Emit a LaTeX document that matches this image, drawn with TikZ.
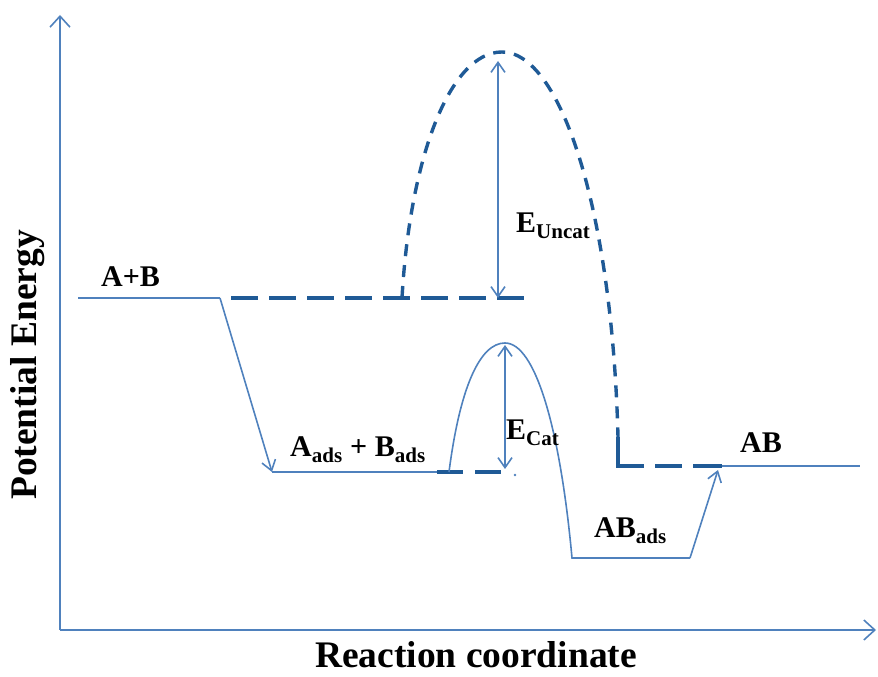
\documentclass[tikz,border=0pt]{standalone}
\usepackage{fontspec}
\setmainfont{Liberation Serif}
\usepackage{xcolor}
\definecolor{lineBlue}{HTML}{4F81BD}
\definecolor{dashBlue}{HTML}{1F5A96}
\usepackage{tikz}
\usetikzlibrary{arrows.meta}

\begin{document}
\begin{tikzpicture}[
    x=1pt, y=1pt,
    axisLine/.style={lineBlue, line width=1.6pt, -{Straight Barb[length=11pt, width=20pt, line width=1.6pt]}},
    levelLine/.style={lineBlue, line width=1.6pt},
    dashLevel/.style={dashBlue, line width=3.4pt, dash pattern=on 27pt off 11pt},
    dashHump/.style={dashBlue, line width=3.4pt, dash pattern=on 12pt off 9pt},
    stepArrow/.style={levelLine, -{Straight Barb[length=10pt, width=14pt, line width=1.6pt]}},
    gapArrow/.style={levelLine, {Straight Barb[length=10pt, width=14pt, line width=1.6pt]}-{Straight Barb[length=10pt, width=14pt, line width=1.6pt]}},
    lblNode/.style={anchor=base west, inner sep=0pt, font=\fontsize{30}{36}\selectfont\bfseries},
    axisLbl/.style={inner sep=0pt, font=\fontsize{37.5}{45}\selectfont\bfseries}
]
\useasboundingbox (0,0) rectangle (878,677);

% axes
\coordinate (origin) at (60,47);
\coordinate (yTop) at (60,662);
\coordinate (xEnd) at (876,47);
\draw[axisLine] (origin) -- (yTop);
\draw[axisLine] (origin) -- (xEnd);

% energy levels
\coordinate (reactL) at (78,379);
\coordinate (reactR) at (220,379);
\coordinate (uncatL) at (402,379);
\coordinate (uncatTip) at (527,379);
\coordinate (uncatPeak) at (502,625);
\coordinate (uncatR) at (618,240);
\coordinate (prodL) at (618,211);
\coordinate (prodM) at (722,211);
\coordinate (prodR) at (860,211);
\coordinate (adsL) at (272,205);
\coordinate (adsR) at (449,205);
\coordinate (adsDash) at (437,205);
\coordinate (adsTip) at (504,205);
\coordinate (catPeak) at (505,334);
\coordinate (abadsL) at (572,119);
\coordinate (abadsR) at (690,119);
\coordinate (abadsTip) at (718,207);

\draw[levelLine] (reactL) -- (reactR);
\draw[dashLevel, dash phase=27pt] (reactR) -- (uncatTip);
\draw[stepArrow] (reactR) -- (adsL);
\draw[levelLine] (adsL) -- (adsR);
\draw[dashLevel, dash pattern=on 26pt off 12pt] (adsDash) -- (adsTip);
\fill[lineBlue] (515,202) circle (1.3pt);

% uncatalysed barrier
\draw[dashHump] (uncatL) .. controls (410,520) and (450,625) .. (uncatPeak)
    .. controls (560,625) and (612,470) .. (uncatR);
\draw[dashLevel, dash pattern=on 55pt off 11pt on 27pt off 11pt] (uncatR) -- (prodL) -- (prodM);
\draw[levelLine] (prodM) -- (prodR);

% catalysed barrier
\draw[levelLine] (adsR) .. controls (460,290) and (480,334) .. (catPeak)
    .. controls (535,334) and (560,250) .. (abadsL) -- (abadsR);
\draw[stepArrow] (abadsR) -- (abadsTip);

% activation energies
\coordinate (eUncatTop) at (498,616);
\coordinate (eUncatBot) at (498,379);
\coordinate (eCatTop) at (505,332);
\coordinate (eCatBot) at (505,208);
\draw[gapArrow] (eUncatBot) -- (eUncatTop);
\draw[gapArrow] (eCatBot) -- (eCatTop);

% labels
\node[lblNode] (lAB) at (101,390) {A+B};
\node[lblNode] (lAds) at (290,220) {A\textsubscript{ads} + B\textsubscript{ads}};
\node[lblNode] (lProd) at (740,224) {AB};
\node[lblNode] (lAbads) at (594,139) {AB\textsubscript{ads}};
\node[lblNode] (lECat) at (506,237) {E\textsubscript{Cat}};
\node[lblNode] (lEUncat) at (516,444) {E\textsubscript{Uncat}};
\node[axisLbl, anchor=base] (xLbl) at (476,9) {Reaction coordinate};
\node[axisLbl, rotate=90] (yLbl) at (28,312) {Potential Energy};
\end{tikzpicture}
\end{document}
